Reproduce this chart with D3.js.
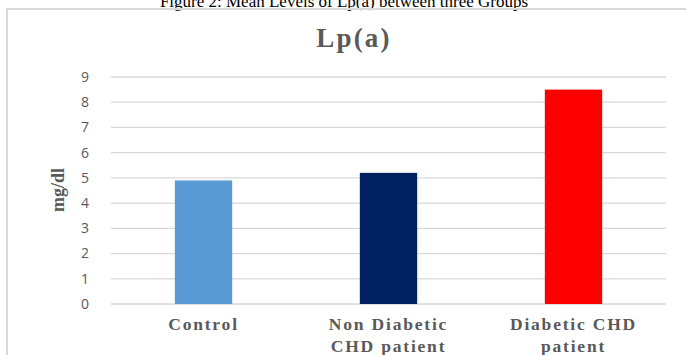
<!DOCTYPE html>
<html>
<head>
<meta charset="utf-8">
<script src="https://cdn.jsdelivr.net/npm/d3@7"></script>
<style>
  body { margin: 0; background: #fff; }
</style>
</head>
<body>
<div id="chart"></div>
<script>
const width = 686;
const height = 355;

const categories = [['Control'], ['Non Diabetic', 'CHD patient'], ['Diabetic CHD', 'patient']];
const values = [4.9, 5.2, 8.5];
const colors = ['#5b9bd5', '#002060', '#ff0000'];
const yTicks = [0, 1, 2, 3, 4, 5, 6, 7, 8, 9];

const plotLeft = 111;
const plotRight = 666;
const plotTop = 77;
const plotBottom = 304;

const svg = d3.select('#chart')
  .append('svg')
    .attr('width', width)
    .attr('height', height);

// figure caption, cut at the top edge like in the scan
svg.append('text')
  .attr('x', 344)
  .attr('y', 7)
  .attr('text-anchor', 'middle')
  .attr('font-family', 'Liberation Serif, Times New Roman, serif')
  .attr('font-size', 17)
  .attr('fill', '#000')
  .text('Figure 2: Mean Levels of Lp(a) between three Groups');

// chart frame
svg.append('path')
  .attr('d', `M7,${height} V9 H${width}`)
  .attr('fill', 'none')
  .attr('stroke', '#d9d9d9')
  .attr('stroke-width', 2);

const x = d3.scaleBand()
  .domain(d3.range(categories.length))
  .range([plotLeft, plotRight])
  .paddingInner(0.69)
  .paddingOuter(0.345);

const y = d3.scaleLinear().domain([0, 9]).range([plotBottom, plotTop]);

// gridlines
svg.append('g')
  .selectAll('line')
  .data(yTicks)
  .join('line')
    .attr('x1', plotLeft)
    .attr('x2', plotRight)
    .attr('y1', d => y(d))
    .attr('y2', d => y(d))
    .attr('stroke', '#d9d9d9')
    .attr('stroke-width', 1.3);

// y tick labels
svg.append('g')
  .selectAll('text')
  .data(yTicks)
  .join('text')
    .attr('x', 89)
    .attr('y', d => y(d))
    .attr('dy', '0.35em')
    .attr('text-anchor', 'end')
    .attr('font-family', 'Open Sans, Noto Sans, sans-serif')
    .attr('font-size', 14)
    .attr('fill', '#595959')
    .text(d => d);

// bars
svg.append('g')
  .selectAll('rect')
  .data(values)
  .join('rect')
    .attr('x', (d, i) => x(i))
    .attr('y', d => y(d))
    .attr('width', x.bandwidth())
    .attr('height', d => y(0) - y(d))
    .attr('fill', (d, i) => colors[i]);

// category labels
const labels = svg.append('g')
  .selectAll('text')
  .data(categories)
  .join('text')
    .attr('x', (d, i) => x(i) + x.bandwidth() / 2)
    .attr('y', 330)
    .attr('text-anchor', 'middle')
    .attr('font-family', 'Liberation Serif, Times New Roman, serif')
    .attr('font-weight', 'bold')
    .attr('font-size', 17.5)
    .attr('letter-spacing', 1.8)
    .attr('fill', '#595959');

labels.selectAll('tspan')
  .data(d => d)
  .join('tspan')
    .attr('x', function() { return d3.select(this.parentNode).attr('x'); })
    .attr('dy', (d, i) => i === 0 ? 0 : 22)
    .text(d => d);

// chart title
svg.append('text')
  .attr('x', 354)
  .attr('y', 47)
  .attr('text-anchor', 'middle')
  .attr('font-family', 'Liberation Serif, Times New Roman, serif')
  .attr('font-weight', 'bold')
  .attr('font-size', 27)
  .attr('letter-spacing', 2.2)
  .attr('fill', '#595959')
  .text('Lp(a)');

// y axis title
svg.append('text')
  .attr('transform', 'translate(64, 190) rotate(-90)')
  .attr('text-anchor', 'middle')
  .attr('font-family', 'Liberation Serif, Times New Roman, serif')
  .attr('font-weight', 'bold')
  .attr('font-size', 18)
  .attr('fill', '#595959')
  .text('mg/dl');
</script>
</body>
</html>
